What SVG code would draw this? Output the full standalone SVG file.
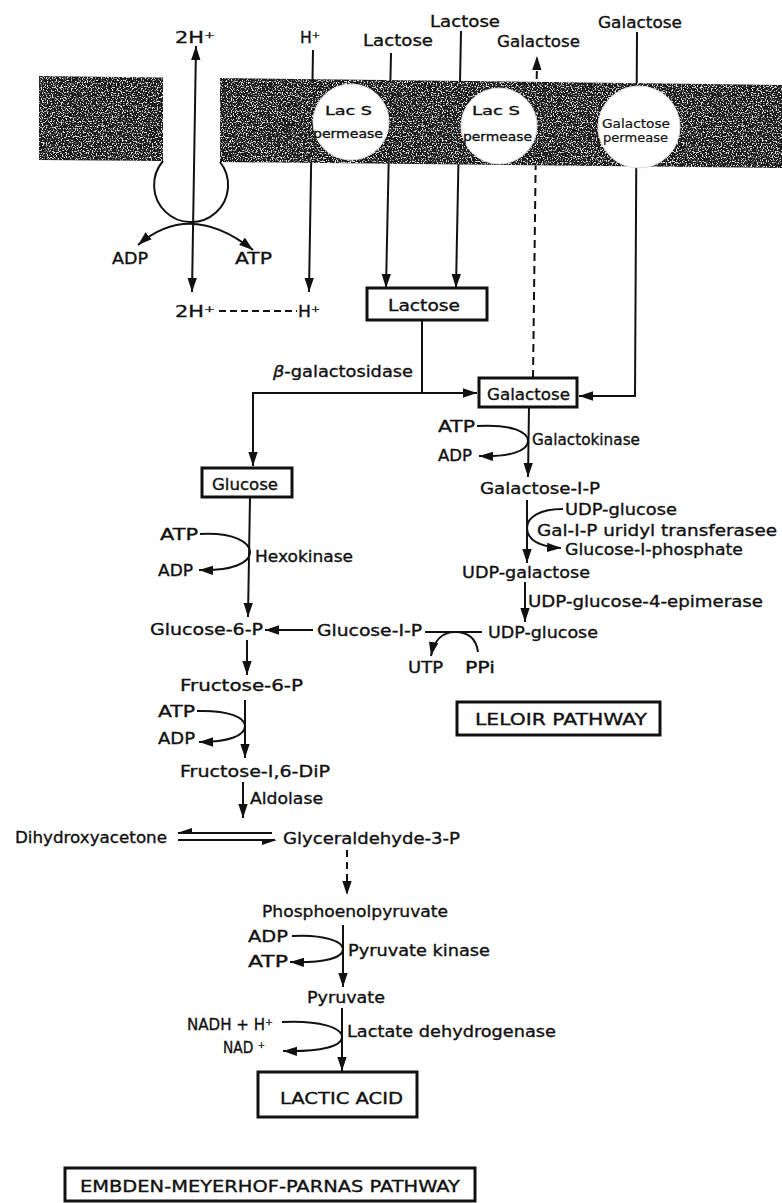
<svg xmlns="http://www.w3.org/2000/svg" width="782" height="1203" viewBox="0 0 782 1203">
<defs>
<style>
text{font-family:"DejaVu Sans","Liberation Sans",sans-serif;font-size:16px;fill:#111;stroke:#111;stroke-width:0.35}
.sm{font-size:13px}
.xs{font-size:12px;stroke-width:0.2}
.ln{fill:none;stroke:#111;stroke-width:2}
.ar{marker-end:url(#ah)}
.dash{stroke-dasharray:8,5}
.box{fill:#fff;stroke:#111;stroke-width:3}
.perm{fill:#fff;stroke:#ddd;stroke-width:1}
</style>
<marker id="ah" markerUnits="userSpaceOnUse" markerWidth="14" markerHeight="10" refX="12" refY="4" orient="auto-start-reverse" viewBox="0 0 12 8">
<path d="M0,0 L12,4 L0,8 z" fill="#111"/>
</marker>
<filter id="speck" x="0" y="0" width="1" height="1" color-interpolation-filters="sRGB">
<feTurbulence type="fractalNoise" baseFrequency="0.8" numOctaves="1" seed="7" result="n"/>
<feColorMatrix in="n" type="matrix" values="0 0 0 0 1  0 0 0 0 1  0 0 0 0 1  10 0 0 0 -5.25" result="w"/>
<feComposite in="w" in2="SourceAlpha" operator="in"/>
</filter>
<path id="mem" d="M39,76 L163,77.5 L163,161 L39,160 Z M220,78 L782,85 L782,168 L220,162 Z"/>
</defs>
<rect width="782" height="1203" fill="#fff"/>

<g id="connectors">
<line class="ln" x1="196" y1="46" x2="192" y2="292" marker-start="url(#ah)" marker-end="url(#ah)"/>
<line class="ln ar" x1="313" y1="50" x2="309" y2="292"/>
<line class="ln ar" x1="391" y1="53" x2="386" y2="288"/>
<line class="ln ar" x1="461" y1="31" x2="456" y2="288"/>
<line class="ln dash ar" x1="533" y1="378" x2="537" y2="56"/>
<path class="ln ar" d="M637,32 L635,396 L579,396"/>
<path class="ln" d="M138,245 Q190,200 253,250" marker-start="url(#ah)" marker-end="url(#ah)"/>
<line class="ln" x1="219" y1="311" x2="297" y2="311" style="stroke-dasharray:7,4"/>
<line class="ln" x1="422" y1="320" x2="422" y2="393"/>
<path class="ln" d="M253,466 L253,393 L477,393" marker-start="url(#ah)" marker-end="url(#ah)"/>
<line class="ln ar" x1="529" y1="407" x2="528" y2="477"/>
<path class="ln ar" d="M477,426 C512,424 528,432 528,441 C528,451 510,457 479,456"/>
<line class="ln ar" x1="527" y1="500" x2="527" y2="563"/>
<path class="ln ar" d="M563,509 C540,509 527,517 527,528 C527,540 540,547 561,548"/>
<line class="ln ar" x1="525" y1="582" x2="525" y2="622"/>
<line class="ln" x1="482" y1="632" x2="425" y2="632"/>
<path class="ln ar" d="M478,652 C476,637 466,632 455,632 C443,632 434,640 431,656"/>
<line class="ln ar" x1="313" y1="630" x2="265" y2="630"/>
<line class="ln ar" x1="250" y1="497" x2="248" y2="617"/>
<path class="ln ar" d="M200,534 C235,532 250,543 250,552 C250,563 232,571 199,570"/>
<line class="ln ar" x1="247" y1="640" x2="247" y2="675"/>
<line class="ln ar" x1="245" y1="700" x2="245" y2="758"/>
<path class="ln ar" d="M197,711 C230,710 245,718 245,726 C245,736 228,742 199,742"/>
<line class="ln ar" x1="243" y1="782" x2="243" y2="818"/>
<line class="ln" x1="178" y1="833" x2="272" y2="833"/>
<polygon points="177,833 192,833 192,828" fill="#111"/>
<line class="ln" x1="178" y1="840" x2="275" y2="840"/>
<polygon points="277,840 262,840 262,845" fill="#111"/>
<line class="ln ar" x1="347" y1="850" x2="347" y2="895" style="stroke-dasharray:7,5"/>
<line class="ln ar" x1="343" y1="925" x2="343" y2="987"/>
<path class="ln ar" d="M292,936 C325,934 343,942 343,949 C343,958 325,963 290,962"/>
<line class="ln ar" x1="342" y1="1008" x2="342" y2="1071"/>
<path class="ln ar" d="M282,1022 C320,1020 342,1028 342,1037 C342,1046 322,1052 283,1051"/>
</g>

<g id="membrane">
<use href="#mem" fill="#1b1b1b"/>
<use href="#mem" fill="#000" filter="url(#speck)" opacity="0.85"/>
<path d="M163,161 A37,37 0 1 0 220,162" fill="none" stroke="#111" stroke-width="2"/>
</g>

<g id="atpase-labels">
<text x="175" y="43" textLength="40" lengthAdjust="spacingAndGlyphs">2H⁺</text>
<text x="112" y="264" textLength="36" lengthAdjust="spacingAndGlyphs">ADP</text>
<text x="235" y="264" textLength="37" lengthAdjust="spacingAndGlyphs">ATP</text>
<text x="175" y="317" textLength="40" lengthAdjust="spacingAndGlyphs">2H⁺</text>
<text x="298" y="317" textLength="22" lengthAdjust="spacingAndGlyphs">H⁺</text>
<text x="300" y="43" textLength="20" lengthAdjust="spacingAndGlyphs">H⁺</text>
</g>

<g id="lacS1">
<circle class="perm" cx="351" cy="122" r="38"/>
<text class="sm" x="325" y="115" textLength="47" lengthAdjust="spacingAndGlyphs">Lac S</text>
<text class="sm" x="313" y="138" textLength="70" lengthAdjust="spacingAndGlyphs">permease</text>
</g>
<g id="lacS2">
<circle class="perm" cx="499" cy="126" r="38"/>
<text class="sm" x="472" y="115" textLength="48" lengthAdjust="spacingAndGlyphs">Lac S</text>
<text class="sm" x="463" y="141" textLength="69" lengthAdjust="spacingAndGlyphs">permease</text>
</g>
<g id="galP">
<circle class="perm" cx="639" cy="127" r="41"/>
<text class="xs" x="602" y="128" textLength="68" lengthAdjust="spacingAndGlyphs">Galactose</text>
<text class="xs" x="603" y="142" textLength="65" lengthAdjust="spacingAndGlyphs">permease</text>
</g>

<g id="outside-labels">
<text x="363" y="46" textLength="70" lengthAdjust="spacingAndGlyphs">Lactose</text>
<text x="430" y="27" textLength="70" lengthAdjust="spacingAndGlyphs">Lactose</text>
<text x="497" y="47" textLength="83" lengthAdjust="spacingAndGlyphs">Galactose</text>
<text x="598" y="28" textLength="84" lengthAdjust="spacingAndGlyphs">Galactose</text>
</g>

<g id="lactose">
<rect class="box" x="367" y="288" width="120" height="32"/>
<text x="388" y="311" textLength="72" lengthAdjust="spacingAndGlyphs">Lactose</text>
</g>
<g id="bgal">
<text x="273" y="377" textLength="140" lengthAdjust="spacingAndGlyphs"><tspan font-style="italic">β</tspan>-galactosidase</text>
</g>
<g id="galactose">
<rect class="box" x="479" y="378" width="98" height="29"/>
<text x="487" y="400" textLength="83" lengthAdjust="spacingAndGlyphs">Galactose</text>
</g>
<g id="galactokinase">
<text x="438" y="432" textLength="37" lengthAdjust="spacingAndGlyphs">ATP</text>
<text x="438" y="461" textLength="34" lengthAdjust="spacingAndGlyphs">ADP</text>
<text x="532" y="445" textLength="108" lengthAdjust="spacingAndGlyphs">Galactokinase</text>
</g>
<g id="glucose">
<rect class="box" x="202" y="468" width="90" height="29"/>
<text x="212" y="490" textLength="66" lengthAdjust="spacingAndGlyphs">Glucose</text>
</g>
<g id="hexokinase">
<text x="160" y="540" textLength="38" lengthAdjust="spacingAndGlyphs">ATP</text>
<text x="255" y="562" textLength="98" lengthAdjust="spacingAndGlyphs">Hexokinase</text>
<text x="158" y="576" textLength="35" lengthAdjust="spacingAndGlyphs">ADP</text>
</g>
<g id="gal1p">
<text x="480" y="494" textLength="120" lengthAdjust="spacingAndGlyphs">Galactose-I-P</text>
</g>
<g id="transferase">
<text x="565" y="515" textLength="112" lengthAdjust="spacingAndGlyphs">UDP-glucose</text>
<text x="537" y="536" textLength="240" lengthAdjust="spacingAndGlyphs">Gal-I-P uridyl transferasee</text>
<text x="565" y="555" textLength="178" lengthAdjust="spacingAndGlyphs">Glucose-I-phosphate</text>
</g>
<g id="udpgal">
<text x="462" y="578" textLength="128" lengthAdjust="spacingAndGlyphs">UDP-galactose</text>
<text x="528" y="607" textLength="235" lengthAdjust="spacingAndGlyphs">UDP-glucose-4-epimerase</text>
</g>
<g id="udpglc">
<text x="488" y="638" textLength="110" lengthAdjust="spacingAndGlyphs">UDP-glucose</text>
<text x="408" y="673" textLength="35" lengthAdjust="spacingAndGlyphs">UTP</text>
<text x="465" y="673" textLength="30" lengthAdjust="spacingAndGlyphs">PPi</text>
</g>
<g id="glc1p">
<text x="317" y="636" textLength="105" lengthAdjust="spacingAndGlyphs">Glucose-I-P</text>
</g>
<g id="glc6p">
<text x="150" y="635" textLength="113" lengthAdjust="spacingAndGlyphs">Glucose-6-P</text>
</g>
<g id="leloir">
<rect class="box" x="457" y="702" width="203" height="33"/>
<text x="475" y="725" textLength="172" lengthAdjust="spacingAndGlyphs">LELOIR PATHWAY</text>
</g>
<g id="f6p">
<text x="180" y="691" textLength="123" lengthAdjust="spacingAndGlyphs">Fructose-6-P</text>
<text x="158" y="717" textLength="37" lengthAdjust="spacingAndGlyphs">ATP</text>
<text x="158" y="744" textLength="37" lengthAdjust="spacingAndGlyphs">ADP</text>
</g>
<g id="f16dp">
<text x="180" y="777" textLength="150" lengthAdjust="spacingAndGlyphs">Fructose-I,6-DiP</text>
<text x="250" y="804" textLength="73" lengthAdjust="spacingAndGlyphs">Aldolase</text>
</g>
<g id="dhap">
<text x="15" y="843" textLength="152" lengthAdjust="spacingAndGlyphs">Dihydroxyacetone</text>
</g>
<g id="g3p">
<text x="283" y="844" textLength="177" lengthAdjust="spacingAndGlyphs">Glyceraldehyde-3-P</text>
</g>
<g id="pep">
<text x="262" y="917" textLength="186" lengthAdjust="spacingAndGlyphs">Phosphoenolpyruvate</text>
<text x="248" y="942" textLength="40" lengthAdjust="spacingAndGlyphs">ADP</text>
<text x="248" y="967" textLength="40" lengthAdjust="spacingAndGlyphs">ATP</text>
<text x="348" y="956" textLength="142" lengthAdjust="spacingAndGlyphs">Pyruvate kinase</text>
</g>
<g id="pyruvate">
<text x="307" y="1003" textLength="78" lengthAdjust="spacingAndGlyphs">Pyruvate</text>
<text x="187" y="1030" textLength="86" lengthAdjust="spacingAndGlyphs">NADH + H⁺</text>
<text x="223" y="1053" textLength="42" lengthAdjust="spacingAndGlyphs">NAD ⁺</text>
<text x="347" y="1037" textLength="209" lengthAdjust="spacingAndGlyphs">Lactate dehydrogenase</text>
</g>
<g id="lactic">
<rect class="box" x="258" y="1072" width="159" height="45"/>
<text x="280" y="1104" textLength="123" lengthAdjust="spacingAndGlyphs">LACTIC ACID</text>
</g>
<g id="emp">
<rect class="box" x="65" y="1168" width="410" height="33"/>
<text x="80" y="1192" textLength="380" lengthAdjust="spacingAndGlyphs">EMBDEN-MEYERHOF-PARNAS PATHWAY</text>
</g>
</svg>
